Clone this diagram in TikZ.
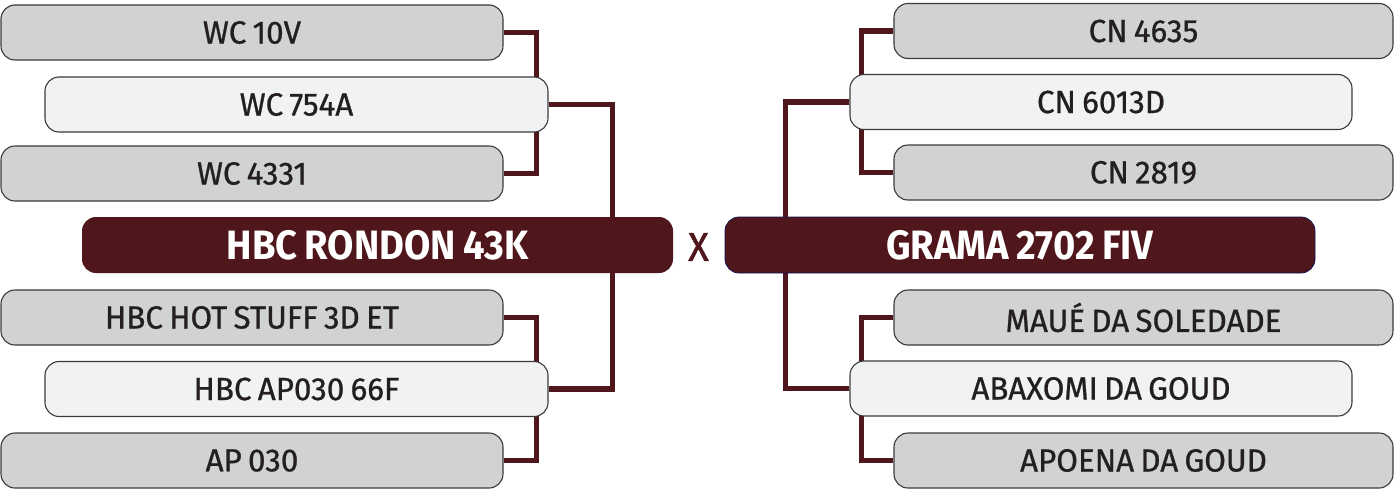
\documentclass[tikz,border=0pt]{standalone}
\usepackage{fontspec}
\setmainfont{Fira Sans}[FakeStretch=0.98, FakeBold=0.8, WordSpace=0.75]
\newfontfamily\boldfnt{Fira Sans}[FakeStretch=0.93, WordSpace=0.8]
\newfontfamily\xfnt{Fira Sans}[FakeStretch=0.95, FakeBold=1.2]
\usetikzlibrary{backgrounds}
\definecolor{boxgray}{HTML}{D1D2D4}
\definecolor{boxlight}{HTML}{F1F2F4}
\definecolor{wine}{HTML}{4F161C}
\definecolor{edgegray}{HTML}{3A3A3A}
\definecolor{txt}{HTML}{231F20}
\begin{document}
\begin{tikzpicture}[x=1pt,y=-1pt,
  base/.style={rounded corners=14pt, draw=edgegray, line width=1.1pt, inner sep=0pt,
     minimum height=55pt, text=txt, font=\fontsize{32}{32}\selectfont},
  graybox/.style={base, fill=boxgray},
  lightbox/.style={base, fill=boxlight},
  mainbox/.style={rounded corners=14pt, fill=wine, inner sep=0pt, minimum height=56pt,
     minimum width=591pt, text=white, font=\boldfnt\bfseries\fontsize{41}{41}\selectfont},
  link/.style={draw=wine, line width=5.5pt, line join=miter}
]
\useasboundingbox (0,0) rectangle (1395,490);
% left side
\node[graybox, minimum width=502pt] (wc10v) at (252,32.5) {WC 10V};
\node[lightbox, minimum width=503pt] (wc754a) at (296.5,104.5) {WC 754A};
\node[graybox, minimum width=502pt] (wc4331) at (252,173.5) {WC 4331};
\node[mainbox] (rondon) at (377.5,245) {HBC RONDON 43K};
\node[graybox, minimum width=502pt] (hot) at (252,317.5) {HBC HOT STUFF 3D ET};
\node[lightbox, minimum width=503pt] (ap66f) at (296.5,389) {HBC AP030 66F};
\node[graybox, minimum width=502pt] (ap030) at (252,460.5) {AP 030};
% right side
\node[graybox, minimum width=499pt] (cn4635) at (1143.5,31) {CN 4635};
\node[lightbox, minimum width=502pt] (cn6013d) at (1101,102) {CN 6013D};
\node[graybox, minimum width=499pt] (cn2819) at (1143.5,172.5) {CN 2819};
\node[mainbox, minimum width=590pt, draw=edgegray!60!blue!60!black, line width=0.8pt] (grama) at (1020,245) {GRAMA 2702 FIV};
\node[graybox, minimum width=499pt] (maue) at (1143.5,317.5) {MAUÉ DA SOLEDADE};
\node[lightbox, minimum width=502pt] (abax) at (1101,388.5) {ABAXOMI DA GOUD};
\node[graybox, minimum width=499pt] (apoena) at (1143.5,460.5) {APOENA DA GOUD};
% versus
\node[text=wine, font=\xfnt\fontsize{40}{40}\selectfont, inner sep=0pt] (vs) at (698.5,247) {X};
% connectors
\begin{scope}[on background layer]
\fill[white] (0,0) rectangle (1395,490);
\draw[link] (wc10v.east) -- ++(33,0) |- (wc4331.east);
\draw[link] (wc754a.east) -- ++(64,0) |- (ap66f.east);
\draw[link] (hot.east) -- ++(33,0) |- (ap030.east);
\draw[link] (cn4635.west) -- ++(-32,0) |- (cn2819.west);
\draw[link] (cn6013d.west) -- ++(-64,0) |- (abax.west);
\draw[link] (maue.west) -- ++(-32,0) |- (apoena.west);
\end{scope}
\end{tikzpicture}
\end{document}
